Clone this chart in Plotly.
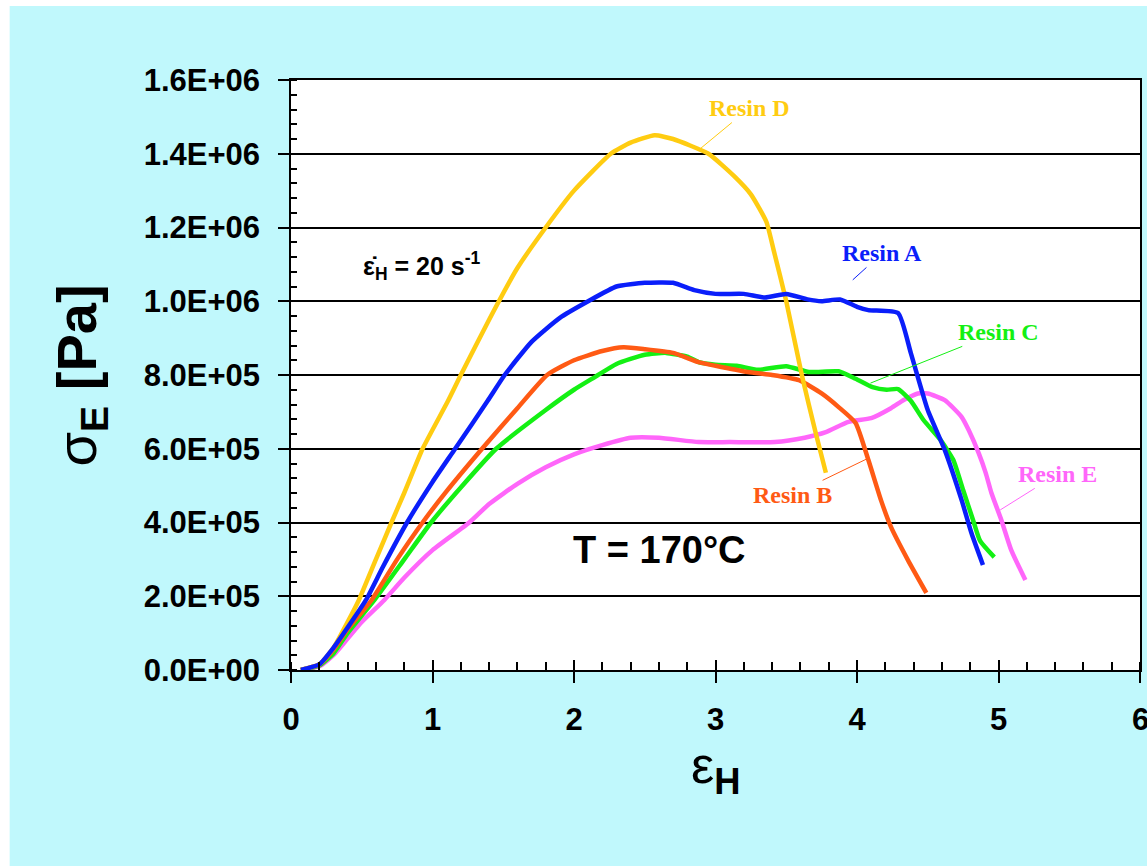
import plotly.graph_objects as go

# ---------------- data ----------------
resin_a_x = [0.07, 0.2, 0.3, 0.4, 0.53, 0.65, 0.82, 1.0, 1.16, 1.39, 1.51, 1.7, 1.9, 2.1, 2.3, 2.5, 2.7,
             2.85, 3.0, 3.2, 3.35, 3.5, 3.65, 3.75, 3.88, 4.0, 4.08, 4.29, 4.38, 4.5, 4.62, 4.74, 4.81, 4.89]
resin_a_y = [0, 1.5e4, 6e4, 1.15e5, 1.9e5, 2.8e5, 4.0e5, 5.1e5, 6.0e5, 7.3e5, 8.0e5, 8.9e5, 9.55e5, 1.0e6,
             1.04e6, 1.05e6, 1.05e6, 1.03e6, 1.02e6, 1.02e6, 1.01e6, 1.02e6, 1.005e6, 1.0e6, 1.005e6, 9.85e5,
             9.76e5, 9.68e5, 8.6e5, 7.05e5, 5.97e5, 4.6e5, 3.7e5, 2.85e5]

resin_b_x = [0.07, 0.2, 0.3, 0.4, 0.57, 0.75, 0.93, 1.1, 1.35, 1.6, 1.81, 2.0, 2.2, 2.35, 2.5, 2.7, 2.88,
             3.0, 3.23, 3.4, 3.59, 3.75, 3.87, 3.99, 4.08, 4.17, 4.24, 4.36, 4.49]
resin_b_y = [0, 1.5e4, 5.5e4, 1.1e5, 1.9e5, 3.0e5, 4.0e5, 4.85e5, 6.0e5, 7.1e5, 8.0e5, 8.4e5, 8.65e5,
             8.75e5, 8.7e5, 8.6e5, 8.35e5, 8.25e5, 8.08e5, 8.0e5, 7.86e5, 7.5e5, 7.13e5, 6.7e5, 5.7e5,
             4.6e5, 3.88e5, 2.98e5, 2.09e5]

resin_c_x = [0.07, 0.2, 0.3, 0.4, 0.59, 0.8, 0.99, 1.2, 1.45, 1.8, 2.0, 2.15, 2.3, 2.5, 2.65, 2.8, 2.88,
             3.0, 3.15, 3.3, 3.5, 3.66, 3.87, 3.99, 4.11, 4.21, 4.29, 4.38, 4.47, 4.59, 4.68, 4.75, 4.82,
             4.87, 4.97]
resin_c_y = [0, 1.2e4, 4.5e4, 1.0e5, 1.9e5, 3.0e5, 4.0e5, 4.95e5, 6.0e5, 7.05e5, 7.6e5, 7.95e5, 8.3e5,
             8.55e5, 8.6e5, 8.5e5, 8.35e5, 8.28e5, 8.25e5, 8.14e5, 8.24e5, 8.08e5, 8.1e5, 7.9e5, 7.67e5,
             7.6e5, 7.62e5, 7.3e5, 6.78e5, 6.24e5, 5.7e5, 4.88e5, 4.07e5, 3.5e5, 3.06e5]

resin_d_x = [0.07, 0.2, 0.3, 0.4, 0.48, 0.6, 0.71, 0.8, 0.93, 1.11, 1.2, 1.4, 1.6, 1.8, 2.0, 2.26, 2.4,
             2.57, 2.7, 2.95, 3.13, 3.25, 3.36, 3.41, 3.5, 3.61, 3.71, 3.78]
resin_d_y = [0, 1.5e4, 6e4, 1.3e5, 1.9e5, 3.0e5, 4.0e5, 4.8e5, 6.0e5, 7.3e5, 8.0e5, 9.5e5, 1.09e6, 1.2e6,
             1.3e6, 1.4e6, 1.43e6, 1.45e6, 1.44e6, 1.4e6, 1.34e6, 1.29e6, 1.215e6, 1.14e6, 1.0e6, 8.0e5,
             6.4e5, 5.35e5]

resin_e_x = [0.07, 0.2, 0.3, 0.4, 0.5, 0.66, 0.8, 1.0, 1.26, 1.4, 1.6, 1.8, 2.0, 2.2, 2.4, 2.6, 2.88, 3.1,
             3.42, 3.63, 3.78, 3.94, 4.1, 4.24, 4.33, 4.43, 4.5, 4.62, 4.74, 4.79, 4.86, 4.91, 4.95, 5.02,
             5.09, 5.19]
resin_e_y = [0, 1.0e4, 4e4, 8.5e4, 1.3e5, 1.9e5, 2.5e5, 3.25e5, 4.0e5, 4.5e5, 5.05e5, 5.5e5, 5.85e5,
             6.1e5, 6.3e5, 6.3e5, 6.18e5, 6.18e5, 6.18e5, 6.3e5, 6.45e5, 6.73e5, 6.83e5, 7.1e5, 7.32e5,
             7.5e5, 7.5e5, 7.32e5, 6.86e5, 6.5e5, 5.88e5, 5.34e5, 4.8e5, 4.07e5, 3.25e5, 2.44e5]

series_names = ["Resin E", "Resin C", "Resin B", "Resin D", "Resin A"]
series_colors = {"Resin A": "#0A1EFA", "Resin B": "#FF5A14", "Resin C": "#14F014",
                 "Resin D": "#FFCC11", "Resin E": "#FF66FA"}
series_data = {"Resin A": (resin_a_x, resin_a_y), "Resin B": (resin_b_x, resin_b_y),
               "Resin C": (resin_c_x, resin_c_y), "Resin D": (resin_d_x, resin_d_y),
               "Resin E": (resin_e_x, resin_e_y)}

# label position (text centre) and leader-line target, in data units
label_pos = {"Resin D": (3.24, 1.524e6, 2.89, 1.413e6),
             "Resin A": (4.18, 1.131e6, 3.97, 1.058e6),
             "Resin C": (5.0, 0.917e6, 4.095, 0.778e6),
             "Resin B": (3.545, 0.475e6, 4.067, 0.572e6),
             "Resin E": (5.42, 0.532e6, 5.012, 0.434e6)}

x_ticks = [0, 1, 2, 3, 4, 5, 6]
y_ticks = [0, 2e5, 4e5, 6e5, 8e5, 1.0e6, 1.2e6, 1.4e6, 1.6e6]
y_tick_text = ["0.0E+00", "2.0E+05", "4.0E+05", "6.0E+05", "8.0E+05",
               "1.0E+06", "1.2E+06", "1.4E+06", "1.6E+06"]

# ---------------- figure ----------------
W, H = 1147, 866
ML, MR, MT, MB = 291, 5, 80, 196
CYAN = "#C0F8FC"
SANS = "Liberation Sans, Arial, sans-serif"
SERIF = "Liberation Serif, Times New Roman, serif"

fig = go.Figure()
for name in series_names:
    xs, ys = series_data[name]
    fig.add_trace(go.Scatter(
        x=xs, y=ys, mode="lines", name=name,
        line=dict(color=series_colors[name], width=4.5, shape="spline", smoothing=0.5),
        xaxis="x2" if name == "Resin A" else "x", yaxis="y",
        hoverinfo="skip", showlegend=False))

for name, (tx, ty, px, py) in label_pos.items():
    fig.add_annotation(x=px, y=py, ax=tx, ay=ty, xref="x", yref="y", axref="x", ayref="y",
                       text="<b>%s</b>" % name, showarrow=True, arrowhead=0, arrowwidth=1,
                       arrowcolor=series_colors[name],
                       font=dict(family=SERIF, size=24, color=series_colors[name]))

pw = W - ML - MR
ph = H - MT - MB
def px2paper_x(p):
    return (p - ML) / pw
def px2paper_y(p):
    return (H - MB - p) / ph

tickfont = dict(family=SANS, size=31, color="black", weight="bold")

# last x tick label sits on the page edge and is cut by it, as in the reference
fig.add_annotation(x=x_ticks[-1], y=px2paper_y(719), xref="x", yref="paper",
                   xanchor="center", yanchor="middle", showarrow=False,
                   text=str(x_ticks[-1]), font=tickfont)

# texts inside the plot
fig.add_annotation(x=px2paper_x(361), y=px2paper_y(266), xref="paper", yref="paper",
                   xanchor="left", yanchor="middle", showarrow=False,
                   text="<b>ε̇<sub>H</sub> = 20 s<sup>-1</sup></b>",
                   font=dict(family=SANS, size=25, color="black"))
fig.add_annotation(x=px2paper_x(660), y=px2paper_y(550), xref="paper", yref="paper",
                   xanchor="center", yanchor="middle", showarrow=False,
                   text="<b>T = 170°C</b>",
                   font=dict(family=SANS, size=38, color="black"))

# axis titles
fig.add_annotation(x=px2paper_x(80), y=0.5, xref="paper", yref="paper",
                   xanchor="center", yanchor="middle", showarrow=False, textangle=-90,
                   text="σ<sub><b>E</b></sub> <b>[Pa]</b>",
                   font=dict(family=SANS, size=56, color="black"))
fig.add_annotation(x=0.5, y=px2paper_y(769), xref="paper", yref="paper",
                   xanchor="center", yanchor="middle", showarrow=False,
                   text="ε<sub><b>H</b></sub>",
                   font=dict(family=SANS, size=52, color="black"))

# white outer strips (left and top)
fig.add_shape(type="rect", xref="paper", yref="paper", layer="above",
              x0=px2paper_x(-5), x1=px2paper_x(9), y0=px2paper_y(H + 5), y1=px2paper_y(-5),
              fillcolor="white", line=dict(width=0))
fig.add_shape(type="rect", xref="paper", yref="paper", layer="above",
              x0=px2paper_x(-5), x1=px2paper_x(W + 5), y0=px2paper_y(6), y1=px2paper_y(-5),
              fillcolor="white", line=dict(width=0))

fig.update_layout(
    width=W, height=H,
    margin=dict(l=ML, r=MR, t=MT, b=MB, pad=0),
    paper_bgcolor=CYAN, plot_bgcolor="white",
    showlegend=False,
    xaxis=dict(range=[0, 6], tickvals=x_ticks, ticktext=[str(v) for v in x_ticks],
               ticks="outside", ticklen=11, tickwidth=2, tickcolor="black",
               showline=True, linecolor="black", linewidth=1.5, mirror=True,
               showgrid=False, zeroline=False, tickfont=tickfont, ticklabelstandoff=10,
               minor=dict(dtick=0.2, ticks="inside", ticklen=8, tickwidth=1.5,
                          tickcolor="black", showgrid=False)),
    xaxis2=dict(matches="x", overlaying="x", range=[0, 6], tickvals=x_ticks,
                ticks="inside", ticklen=10, tickwidth=2, tickcolor="black",
                showticklabels=False, showgrid=False, showline=False, zeroline=False),
    yaxis=dict(range=[0, 1.6e6], tickvals=y_ticks, ticktext=y_tick_text,
               ticks="outside", ticklen=11, tickwidth=1.5, tickcolor="black",
               showline=True, linecolor="black", linewidth=1.5, mirror=True,
               showgrid=True, gridcolor="black", gridwidth=1.5, zeroline=False,
               tickfont=tickfont, ticklabelstandoff=12,
               minor=dict(dtick=4e4, ticks="inside", ticklen=6, tickwidth=1.5,
                          tickcolor="black", showgrid=False)),
)

fig.write_html("out.html")
